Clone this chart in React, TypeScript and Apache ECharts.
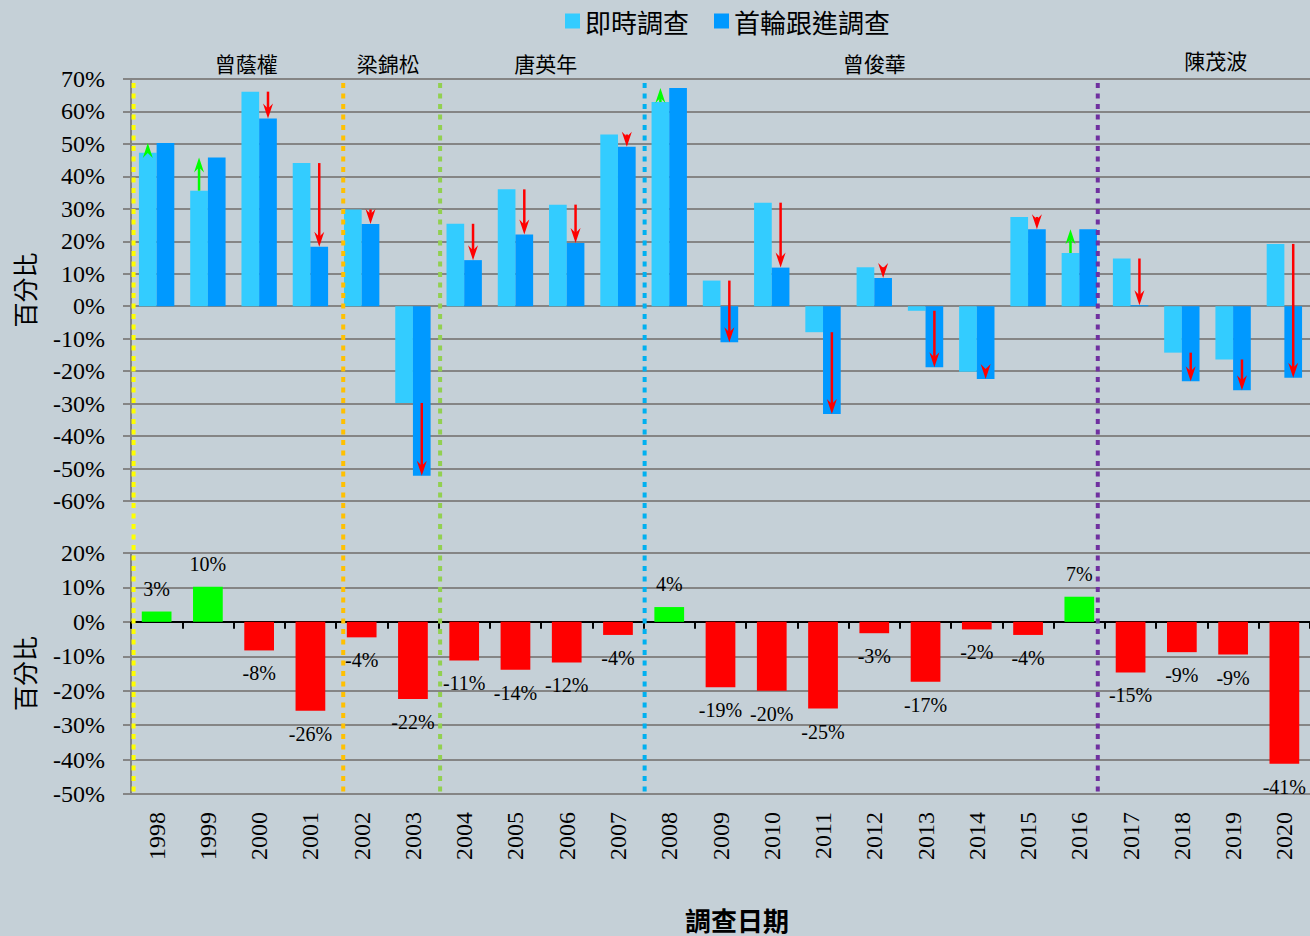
import React, { useEffect, useRef } from "react";
import * as echarts from "echarts";

const years = ["1998","1999","2000","2001","2002","2003","2004","2005","2006","2007","2008","2009","2010","2011","2012","2013","2014","2015","2016","2017","2018","2019","2020"];
const instantSurvey = [47.3, 35.6, 66.1, 44.1, 29.8, -29.8, 25.4, 36.0, 31.3, 52.9, 62.9, 7.9, 31.9, -8.0, 12.0, -1.4, -20.2, 27.5, 16.4, 14.7, -14.3, -16.4, 19.2];
const followUpSurvey = [50.3, 45.8, 57.8, 18.3, 25.3, -52.2, 14.2, 22.1, 19.5, 49.1, 67.2, -11.1, 11.9, -33.2, 8.7, -18.8, -22.4, 23.7, 23.7, 0.3, -23.1, -25.9, -22.0];
const changeValues = [3.0, 10.2, -8.3, -25.8, -4.5, -22.4, -11.2, -13.9, -11.8, -3.8, 4.3, -19.0, -20.0, -25.2, -3.3, -17.4, -2.2, -3.8, 7.3, -14.7, -8.8, -9.5, -41.2];
const topTicks = { min: -60, max: 70, interval: 10 };
const bottomTicks = { min: -50, max: 20, interval: 10 };
// divider positions in category units (0 = left edge of 1998)
const dividerPositions = [0.05, 4.14, 6.03, 10.02, 18.86];
const dividerColors = ["#FFFF00", "#FFC000", "#92D050", "#00B0F0", "#7030A0"];
const ministers = ["曾蔭權", "梁錦松", "唐英年", "曾俊華", "陳茂波"];
const ministerCenters = [2.25, 5.02, 8.09, 14.5, 21.16];

const seriesNames = ["即時調查", "首輪跟進調查"];

const PLOT_LEFT = 131;
const PLOT_RIGHT = 1310;
const BAND = (PLOT_RIGHT - PLOT_LEFT) / years.length;

export default function App() {
  const ref = useRef<HTMLDivElement>(null);
  useEffect(() => {
    const chart = echarts.init(ref.current as HTMLDivElement, null, { renderer: "svg" });
    const grey = "#858585";
    const serif = "'Liberation Serif', 'Times New Roman', serif";
    const cjk = "'Noto Sans CJK TC', 'Noto Sans', sans-serif";

    const yAxisCommon = (gridIndex: number, t: { min: number; max: number; interval: number }, name: string) => ({
      type: "value",
      gridIndex,
      min: t.min,
      max: t.max,
      interval: t.interval,
      name,
      nameLocation: "middle",
      nameRotate: 90,
      nameGap: 95,
      nameTextStyle: { fontFamily: cjk, fontSize: 25, color: "#000" },
      axisLine: { show: true, lineStyle: { color: grey, width: 2 } },
      axisTick: { show: true, length: 8, lineStyle: { color: grey, width: 2 } },
      axisLabel: { fontFamily: serif, fontSize: 24, color: "#000", margin: 26, formatter: "{value}%" },
      splitLine: { show: true, lineStyle: { color: grey, width: 2 } },
    });

    const arrowData = years.map((_, i) => [i, instantSurvey[i], followUpSurvey[i]]);

    const gridCommon = { containLabel: false, outerBoundsMode: "none" };

    const option: any = {
      animation: false,
      backgroundColor: "#C5D0D7",
      legend: {
        data: seriesNames,
        left: 565,
        top: 8,
        padding: 0,
        itemWidth: 15,
        itemHeight: 15,
        itemGap: 25,
        icon: "rect",
        textStyle: { fontFamily: cjk, fontSize: 26, color: "#000" },
      },
      grid: [
        { ...gridCommon, left: PLOT_LEFT, right: 0, top: 79, height: 422 },
        { ...gridCommon, left: PLOT_LEFT, right: 0, top: 553, height: 241 },
        { ...gridCommon, left: PLOT_LEFT, right: 0, top: 83, bottom: 144 },
      ],
      xAxis: [
        { type: "category", gridIndex: 0, data: years, axisLine: { show: false }, axisTick: { show: false }, axisLabel: { show: false }, splitLine: { show: false } },
        {
          type: "category", gridIndex: 1, data: years,
          axisLine: { show: true, onZero: true, lineStyle: { color: "#000", width: 2 } },
          axisTick: { show: true, length: 7, lineStyle: { color: "#000", width: 2 } },
          axisLabel: { show: false },
        },
        {
          type: "category", gridIndex: 1, data: years, position: "bottom",
          axisLine: { show: false, onZero: false },
          axisTick: { show: false },
          axisLabel: { show: true, rotate: 90, fontFamily: serif, fontSize: 24, color: "#000", margin: 18, interval: 0 },
        },
        { type: "value", gridIndex: 2, min: 0, max: years.length, show: false },
      ],
      yAxis: [
        yAxisCommon(0, topTicks, "百分比"),
        yAxisCommon(1, bottomTicks, "百分比"),
        { type: "value", gridIndex: 2, min: 0, max: 1, show: false },
      ],
      series: [
        {
          name: seriesNames[0], type: "bar", xAxisIndex: 0, yAxisIndex: 0,
          data: instantSurvey, barGap: "0%", barCategoryGap: "31%",
          itemStyle: { color: "#33CCFF" },
        },
        {
          name: seriesNames[1], type: "bar", xAxisIndex: 0, yAxisIndex: 0,
          data: followUpSurvey, barGap: "0%", barCategoryGap: "31%",
          itemStyle: { color: "#0099FF" },
        },
        {
          type: "custom", xAxisIndex: 0, yAxisIndex: 0, z: 5,
          data: arrowData,
          renderItem: (params: any, api: any) => {
            const idx = api.value(0);
            const from = api.value(1);
            const to = api.value(2);
            const band = api.size([1, 0])[0];
            const up = to > from;
            const off = (up ? -1 : 1) * band * 0.1725;
            const p1 = api.coord([idx, from]);
            const p2 = api.coord([idx, to]);
            const x = p1[0] + off;
            const y1 = p1[1];
            const y2 = p2[1];
            const dir = y2 > y1 ? 1 : -1;
            const color = up ? "#00FF00" : "#FF0000";
            const headLen = 15;
            const halfW = 5;
            const lineEnd = y2 - dir * 9;
            const children: any[] = [];
            if ((lineEnd - y1) * dir > 0) {
              children.push({ type: "line", shape: { x1: x, y1, x2: x, y2: lineEnd }, style: { stroke: color, lineWidth: 2.5 } });
            }
            children.push({
              type: "polygon",
              shape: { points: [[x, y2], [x - halfW, y2 - dir * headLen], [x, y2 - dir * 10], [x + halfW, y2 - dir * headLen]] },
              style: { fill: color },
            });
            return { type: "group", children };
          },
        },
        {
          type: "bar", xAxisIndex: 1, yAxisIndex: 1, barWidth: "58%",
          data: changeValues.map((v) => ({
            value: v,
            itemStyle: { color: v >= 0 ? "#00FF00" : "#FF0000" },
            label: { position: v >= 0 ? "top" : "bottom" },
          })),
          label: {
            show: true, distance: 13, fontFamily: serif, fontSize: 20, color: "#000",
            formatter: (p: any) => Math.round(p.value) + "%",
          },
        },
        {
          type: "custom", xAxisIndex: 3, yAxisIndex: 2, z: 10, silent: true,
          data: dividerPositions.map((p, i) => [p, i]),
          renderItem: (params: any, api: any) => {
            const x = api.coord([api.value(0), 0])[0];
            const cs = params.coordSys;
            return {
              type: "line",
              shape: { x1: x, y1: cs.y, x2: x, y2: cs.y + cs.height },
              style: { stroke: dividerColors[api.value(1)], lineWidth: 4, lineDash: [5, 5.5] },
            };
          },
        },
      ],
      graphic: [
        ...ministers.map((m, i) => ({
          type: "text",
          x: PLOT_LEFT + ministerCenters[i] * BAND,
          y: i === 4 ? 60 : 63,
          style: { text: m, fontFamily: cjk, fontSize: 21, fill: "#000", align: "center", verticalAlign: "middle" },
        })),
        {
          type: "text", x: 737, y: 919,
          style: { text: "調查日期", fontFamily: cjk, fontSize: 26, fontWeight: "bold", fill: "#000", align: "center", verticalAlign: "middle" },
        },
      ],
    };
    chart.setOption(option);
    return () => chart.dispose();
  }, []);
  return <div ref={ref} style={{ position: "absolute", left: 0, top: 0, width: 1310, height: 936 }} />;
}
